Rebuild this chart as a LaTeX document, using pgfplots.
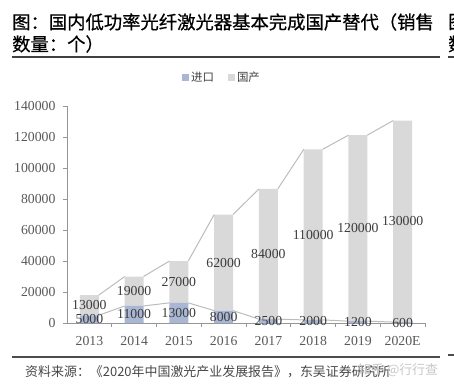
\documentclass[border=0pt]{standalone}
\usepackage{fontspec}
\setmainfont{Liberation Serif}
\newfontfamily\cjk{Noto Sans CJK SC}
\newfontfamily\cjkt[FakeBold=0.6]{Noto Sans CJK SC}
\usepackage{pgfplots}
\pgfplotsset{compat=1.18}
\definecolor{imp}{RGB}{169,183,212}
\definecolor{dom}{RGB}{217,217,217}
\definecolor{sline}{RGB}{188,188,188}
\definecolor{axisc}{RGB}{150,150,150}
\definecolor{ticktext}{RGB}{89,89,89}
\definecolor{lab}{RGB}{60,60,60}
\begin{document}
\begin{tikzpicture}[x=1bp,y=1bp]
\path[use as bounding box] (0,0) rectangle (454,386);
% title
\node[anchor=west, inner sep=0pt, font=\cjkt\fontsize{18.4}{20}\selectfont] at (12,364) {图：国内低功率光纤激光器基本完成国产替代（销售};
\node[anchor=west, inner sep=0pt, font=\cjkt\fontsize{18.4}{20}\selectfont] at (12,342) {数量：个）};
\node[anchor=west, inner sep=0pt, font=\cjkt\fontsize{18.4}{20}\selectfont] at (448,364) {图};
\node[anchor=west, inner sep=0pt, font=\cjkt\fontsize{18.4}{20}\selectfont] at (448,342) {数};
\draw[line width=1.6bp, black!75] (12,329) -- (440,329);
\draw[line width=1.6bp, black!75] (448,329) -- (460,329);
% bottom
\draw[line width=1.6bp, black!70] (12,29) -- (440,29);
\draw[line width=1.6bp, black!70] (448,31) -- (460,31);
\node[anchor=west, inner sep=0pt, font=\cjk\fontsize{13}{14}\selectfont, text=black!72] at (25,14) {资料来源：《2020年中国激光产业发展报告》，东吴证券研究所};
\node[anchor=west, inner sep=0pt, font=\cjk\fontsize{13}{14}\selectfont, text=black!22] at (358,16) {知乎 @行行查};

\begin{axis}[
  at={(67bp,63bp)}, anchor=south west,
  scale only axis, width=358bp, height=217bp,
  ybar stacked, bar width=0.42,
  xmin=-0.5, xmax=7.5, ymin=0, ymax=140000,
  enlargelimits=false, clip=false,
  axis x line*=bottom, axis y line*=left,
  axis line style={axisc, line width=0.9bp, -},
  xtick={0,...,7}, xticklabels={2013,2014,2015,2016,2017,2018,2019,2020E},
  major x tick style={draw=none},
  minor xtick={0.5,1.5,...,7.5},
  ytick={0,20000,...,140000},
  scaled y ticks=false,
  /pgf/number format/.cd, fixed, 1000 sep={}, assume math mode=true, /pgfplots/.cd,
  tick style={axisc, line width=0.7bp},
  tick align=outside, major tick length=4bp, minor tick length=4bp,
  ticklabel style={font=\fontsize{13.8}{14}\selectfont, text=ticktext},
  yticklabel style={xshift=-4bp},
  xticklabel style={yshift=-6bp},
  legend style={at={(0.433,1.13)}, anchor=center, draw=none, fill=none,
    legend columns=2, font=\cjk\fontsize{11.5}{12}\selectfont, text=black!75,
    /tikz/every even column/.append style={column sep=12bp}},
  legend image code/.code={\fill[#1] (0bp,-3.5bp) rectangle (7bp,3.5bp);},
]
\addplot[fill=imp, draw=none] coordinates {(0,5000)(1,11000)(2,13000)(3,8000)(4,2500)(5,2000)(6,1200)(7,600)};
\addplot[fill=dom, draw=none] coordinates {(0,13000)(1,19000)(2,27000)(3,62000)(4,84000)(5,110000)(6,120000)(7,130000)};
\legend{进口,国产}
\end{axis}

\begin{axis}[
  at={(67bp,63bp)}, anchor=south west,
  scale only axis, width=358bp, height=217bp,
  xmin=-0.5, xmax=7.5, ymin=0, ymax=140000,
  enlargelimits=false, clip=false, hide axis,
]
\addplot[sline, line width=1bp, unbounded coords=jump] coordinates {
(0.21,18000)(0.79,30000)(1,nan)
(1.21,30000)(1.79,40000)(2,nan)
(2.21,40000)(2.79,70000)(3,nan)
(3.21,70000)(3.79,86500)(4,nan)
(4.21,86500)(4.79,112000)(5,nan)
(5.21,112000)(5.79,121200)(6,nan)
(6.21,121200)(6.79,130600)};
\addplot[sline, line width=1bp, unbounded coords=jump] coordinates {
(0.21,5000)(0.79,11000)(1,nan)
(1.21,11000)(1.79,13000)(2,nan)
(2.21,13000)(2.79,8000)(3,nan)
(3.21,8000)(3.79,2500)(4,nan)
(4.21,2500)(4.79,2000)(5,nan)
(5.21,2000)(5.79,1200)(6,nan)
(6.21,1200)(6.79,600)};
\addplot[only marks, mark=none, nodes near coords, point meta=explicit symbolic,
  every node near coord/.append style={anchor=center, inner sep=0pt, font=\fontsize{13.8}{14}\selectfont, text=lab}]
  table[meta=l] {
x y l
0 11500 13000
1 20500 19000
2 26500 27000
3 39000 62000
4 44500 84000
5 57000 110000
6 61200 120000
7 65600 130000
0 2500 5000
1 5500 11000
2 6500 13000
3 4000 8000
4 1250 2500
5 1000 2000
6 600 1200
7 300 600
};
\end{axis}
\end{tikzpicture}
\end{document}
